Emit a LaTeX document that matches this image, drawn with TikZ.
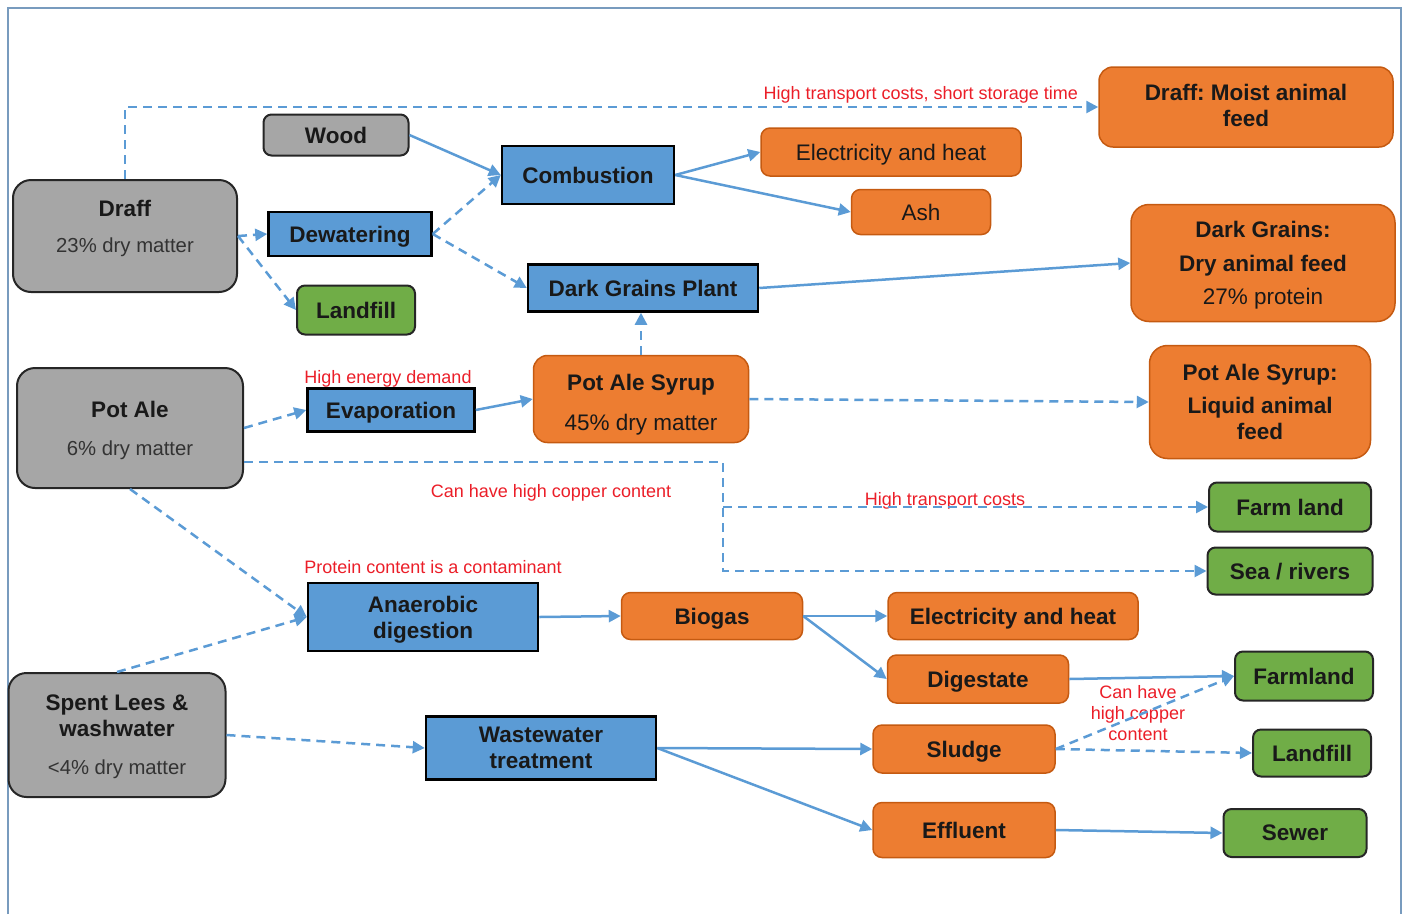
\documentclass[tikz,border=0pt]{standalone}
\usepackage{fontspec}
\setmainfont{Liberation Sans}
\frenchspacing
\usetikzlibrary{arrows.meta}
\definecolor{greybox}{RGB}{166,166,166}
\definecolor{procblue}{RGB}{91,155,213}
\definecolor{prodorange}{RGB}{237,125,49}
\definecolor{prodline}{RGB}{197,90,17}
\definecolor{sinkgreen}{RGB}{112,173,71}
\definecolor{flowblue}{RGB}{91,155,213}
\definecolor{notered}{RGB}{235,30,40}
\definecolor{framecol}{RGB}{120,155,190}
\tikzset{
  box/.style={rectangle, align=center, inner sep=0pt, text=black!90, text depth=0pt,
    font=\bfseries\fontsize{22.5}{26}\selectfont},
  source/.style={box, draw=black!85, fill=greybox, line width=2pt, rounded corners=18pt},
  process/.style={box, draw=black, fill=procblue, line width=2.5pt},
  product/.style={box, draw=prodline, fill=prodorange, line width=1.5pt, rounded corners=9pt},
  sink/.style={box, draw=black!85, fill=sinkgreen, line width=2pt, rounded corners=8pt},
  flow/.style={draw=flowblue, line width=2.5pt, -{Triangle[length=12pt,width=12pt]}},
  maybe/.style={flow, dash pattern=on 9pt off 6pt},
  note/.style={text=notered, font=\fontsize{18}{21}\selectfont, inner sep=1pt, align=center}
}
\newcommand{\subtxt}[1]{{\mdseries\color{black!80}\fontsize{20.3}{24}\selectfont #1}}
\newcommand{\plaintxt}[1]{{\mdseries #1}}

\begin{document}
\begin{tikzpicture}[x=1pt,y=-1pt]
  \useasboundingbox (0,0) rectangle (1405,914);
  \draw[framecol, line width=2.5pt] (8,914) -- (8,8) -- (1401,8) -- (1401,914);

  \node[source, minimum width=224pt, minimum height=112pt, text depth=20pt] (Draff) at (125,236) {Draff\\[10pt]\subtxt{23\% dry matter}};
  \node[source, minimum width=145pt, minimum height=41pt, rounded corners=8pt] (Wood) at (336,135) {Wood};
  \node[process, minimum width=163pt, minimum height=44pt] (Dewater) at (350,234) {Dewatering};
  \node[sink, minimum width=118pt, minimum height=49pt] (LandA) at (356,310) {Landfill};
  \node[process, minimum width=172pt, minimum height=58pt] (Combust) at (588,175) {Combustion};
  \node[process, minimum width=230pt, minimum height=47pt] (DGPlant) at (643,288) {Dark Grains Plant};
  \node[product, minimum width=260pt, minimum height=48pt] (ElecA) at (891,152) {\plaintxt{Electricity and heat}};
  \node[product, minimum width=139pt, minimum height=45pt] (Ash) at (921,212) {\plaintxt{Ash}};
  \node[product, minimum width=294pt, minimum height=80pt, rounded corners=14pt, text depth=3pt] (MoistFeed) at (1246,107) {Draff: Moist animal\\feed};
  \node[product, minimum width=264pt, minimum height=117pt, rounded corners=18pt] (DryFeed) at (1263,263) {Dark Grains:\\[8pt]Dry animal feed\\[7pt]\plaintxt{27\% protein}};

  \node[source, minimum width=226pt, minimum height=120pt] (PotAle) at (130,428) {Pot Ale\\[12pt]\subtxt{6\% dry matter}};
  \node[process, minimum width=167pt, minimum height=43pt] (Evap) at (391,410) {Evaporation};
  \node[product, minimum width=215pt, minimum height=87pt, rounded corners=14pt, text height=62pt] (Syrup) at (641,399) {Pot Ale Syrup\\[14pt]\plaintxt{45\% dry matter}};
  \node[product, minimum width=221pt, minimum height=113pt, rounded corners=18pt] (LiquidFeed) at (1260,402) {Pot Ale Syrup:\\[7pt]Liquid animal\\feed};
  \node[sink, minimum width=162pt, minimum height=49pt] (FarmLand) at (1290,507) {Farm land};
  \node[sink, minimum width=165pt, minimum height=47pt] (SeaRiv) at (1290,571) {Sea / rivers};

  \node[process, minimum width=230pt, minimum height=68pt] (AnDig) at (423,617) {Anaerobic\\digestion};
  \node[product, minimum width=181pt, minimum height=47pt] (Biogas) at (712,616) {Biogas};
  \node[product, minimum width=250pt, minimum height=47pt] (ElecB) at (1013,616) {Electricity and heat};
  \node[product, minimum width=181pt, minimum height=48pt] (Digest) at (978,679) {Digestate};
  \node[sink, minimum width=138pt, minimum height=49pt] (Farmland) at (1304,676) {Farmland};
  \node[source, minimum width=217pt, minimum height=124pt] (Lees) at (117,735) {Spent Lees \&\\washwater\\[12pt]\subtxt{<4\% dry matter}};
  \node[process, minimum width=230pt, minimum height=63pt] (WWT) at (541,748) {Wastewater\\treatment};
  \node[product, minimum width=182pt, minimum height=48pt] (Sludge) at (964,749) {Sludge};
  \node[sink, minimum width=118pt, minimum height=47pt] (LandB) at (1312,753) {Landfill};
  \node[product, minimum width=182pt, minimum height=55pt] (Effluent) at (964,830) {Effluent};
  \node[sink, minimum width=143pt, minimum height=48pt] (Sewer) at (1295,833) {Sewer};

  \node[note, anchor=east] (noteA) at (1079,95) {High transport costs, short storage time};
  \node[note] (noteB) at (388,379) {High energy demand};
  \node[note] (noteC) at (551,493) {Can have high copper content};
  \node[note] (noteD) at (945,501) {High transport costs};
  \node[note] (noteE) at (433,567) {Protein content is a contaminant};
  \node[note] (noteF) at (1138,713) {Can have\\high copper\\content};

  \draw[maybe] (Draff.north) |- (MoistFeed.west);
  \draw[maybe] (Draff.east) -- (Dewater.west);
  \draw[maybe] (Draff.east) -- (LandA.west);
  \draw[flow] (Wood.east) -- (Combust.west);
  \draw[maybe] (Dewater.east) -- (Combust.west);
  \draw[maybe] (Dewater.east) -- (DGPlant.west);
  \draw[flow] (Combust.east) -- (ElecA.west);
  \draw[flow] (Combust.east) -- (Ash.west);
  \draw[flow] (DGPlant.east) -- (DryFeed.west);
  \draw[maybe] (Syrup.north) -- (Syrup.north |- DGPlant.south);
  \draw[maybe] (PotAle.east) -- (Evap.west);
  \draw[flow] (Evap.east) -- (Syrup.west);
  \draw[maybe] (Syrup.east) -- (LiquidFeed.west);
  \coordinate (split) at (723,462);
  \draw[maybe] (PotAle.east |- split) -- (split) |- (SeaRiv.west);
  \draw[maybe] (split |- FarmLand.west) -- (FarmLand.west);
  \draw[maybe] (PotAle.south) -- (AnDig.west);
  \draw[maybe] (Lees.north) -- (AnDig.west);
  \draw[maybe] (Lees.east) -- (WWT.west);
  \draw[flow] (AnDig.east) -- (Biogas.west);
  \draw[flow] (Biogas.east) -- (ElecB.west);
  \draw[flow] (Biogas.east) -- (Digest.west);
  \draw[flow] (Digest.east) -- (Farmland.west);
  \draw[maybe] (Sludge.east) -- (Farmland.west);
  \draw[maybe] (Sludge.east) -- (LandB.west);
  \draw[flow] (WWT.east) -- (Sludge.west);
  \draw[flow] (WWT.east) -- (Effluent.west);
  \draw[flow] (Effluent.east) -- (Sewer.west);
\end{tikzpicture}
\end{document}
